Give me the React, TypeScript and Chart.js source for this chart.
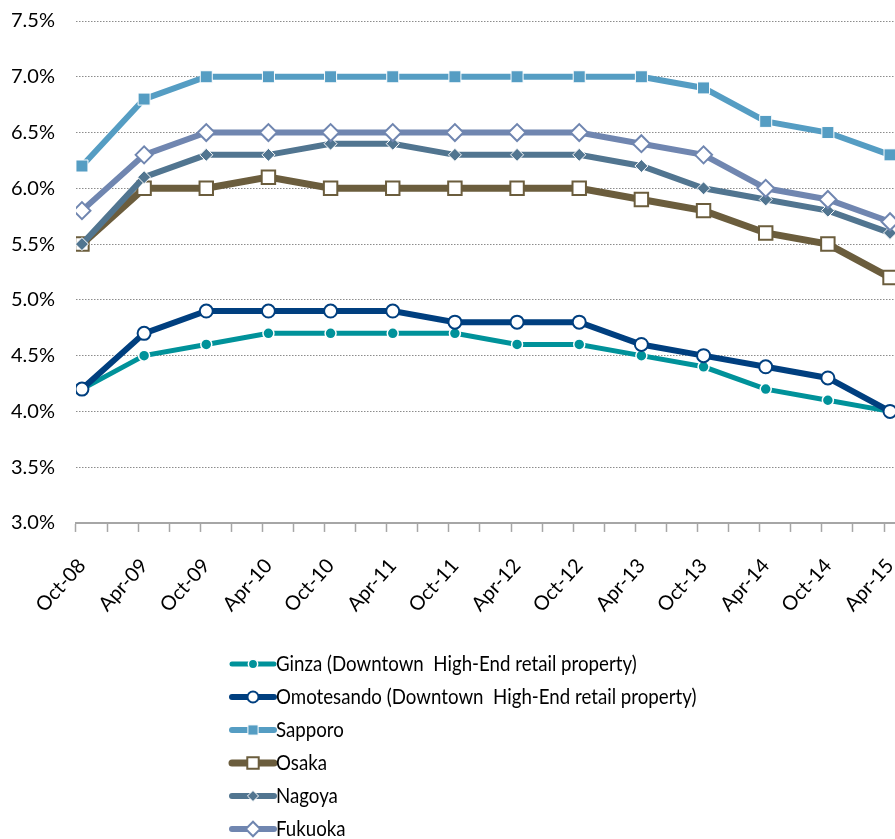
import React, { useEffect, useRef } from "react";
import { Chart, registerables } from "chart.js";
import { drawPoint } from "chart.js/helpers";

Chart.register(...registerables);

const categories = [
  "Oct-08", "Apr-09", "Oct-09", "Apr-10", "Oct-10", "Apr-11", "Oct-11",
  "Apr-12", "Oct-12", "Apr-13", "Oct-13", "Apr-14", "Oct-14", "Apr-15",
];
const ginza = [4.2, 4.5, 4.6, 4.7, 4.7, 4.7, 4.7, 4.6, 4.6, 4.5, 4.4, 4.2, 4.1, 4.0];
const omotesando = [4.2, 4.7, 4.9, 4.9, 4.9, 4.9, 4.8, 4.8, 4.8, 4.6, 4.5, 4.4, 4.3, 4.0];
const sapporo = [6.2, 6.8, 7.0, 7.0, 7.0, 7.0, 7.0, 7.0, 7.0, 7.0, 6.9, 6.6, 6.5, 6.3];
const osaka = [5.5, 6.0, 6.0, 6.1, 6.0, 6.0, 6.0, 6.0, 6.0, 5.9, 5.8, 5.6, 5.5, 5.2];
const nagoya = [5.5, 6.1, 6.3, 6.3, 6.4, 6.4, 6.3, 6.3, 6.3, 6.2, 6.0, 5.9, 5.8, 5.6];
const fukuoka = [5.8, 6.3, 6.5, 6.5, 6.5, 6.5, 6.5, 6.5, 6.5, 6.4, 6.3, 6.0, 5.9, 5.7];

const seriesLabels = [
  "Ginza (Downtown  High-End retail property)",
  "Omotesando (Downtown  High-End retail property)",
  "Sapporo",
  "Osaka",
  "Nagoya",
  "Fukuoka",
];
const yTicks = [3.0, 3.5, 4.0, 4.5, 5.0, 5.5, 6.0, 6.5, 7.0, 7.5];

const FONT = 'Lato, "Open Sans", sans-serif';
const X_MIN = -0.0965;
const X_MAX = 13.08;

const toXY = (arr: number[]) => arr.map((v, i) => ({ x: i, y: v }));

const legendPlugin = {
  id: "stackLegend",
  afterDraw(chart: any) {
    const ctx = chart.ctx as CanvasRenderingContext2D;
    const left = 232;
    const top = 664;
    const step = 33;
    const len = 42;
    ctx.save();
    chart.data.datasets.forEach((ds: any, i: number) => {
      const y = top + i * step;
      ctx.strokeStyle = ds.borderColor;
      ctx.lineWidth = ds.borderWidth;
      ctx.lineCap = "round";
      ctx.beginPath();
      ctx.moveTo(left, y);
      ctx.lineTo(left + len, y);
      ctx.stroke();
      ctx.lineCap = "butt";
      ctx.fillStyle = ds.pointBackgroundColor;
      ctx.strokeStyle = ds.pointBorderColor;
      ctx.lineWidth = ds.pointBorderWidth;
      drawPoint(
        ctx,
        { pointStyle: ds.pointStyle, radius: ds.pointRadius * 0.85, borderWidth: ds.pointBorderWidth, rotation: 0 } as any,
        left + len / 2,
        y
      );
      ctx.fillStyle = "#000";
      ctx.font = `21px ${FONT}`;
      ctx.textBaseline = "middle";
      ctx.textAlign = "left";
      const w = ctx.measureText(ds.label).width;
      ctx.fillText(ds.label, left + len + 2, y, w * 0.89);
    });
    ctx.restore();
  },
};

export default function App() {
  const ref = useRef<HTMLCanvasElement>(null);
  useEffect(() => {
    if (!ref.current) return;
    const makeDs = (
      label: string,
      data: number[],
      color: string,
      style: string,
      radius: number,
      bg: string,
      border: string,
      bw: number,
      lw: number,
      order: number
    ) => ({
      label,
      data: toXY(data),
      borderColor: color,
      backgroundColor: color,
      borderWidth: lw,
      pointStyle: style,
      pointRadius: radius,
      pointBackgroundColor: bg,
      pointBorderColor: border,
      pointBorderWidth: bw,
      tension: 0,
      order,
    });
    const chart = new Chart(ref.current, {
      type: "line",
      data: {
        datasets: [
          makeDs(seriesLabels[0], ginza, "#00929A", "circle", 5.5, "#00929A", "#ffffff", 1.5, 5, 6),
          makeDs(seriesLabels[1], omotesando, "#003F7F", "circle", 6.5, "#ffffff", "#003F7F", 2, 6, 5),
          makeDs(seriesLabels[2], sapporo, "#559DC3", "rect", 8.5, "#559DC3", "#ffffff", 1, 6, 4),
          makeDs(seriesLabels[3], osaka, "#6B5D3D", "rect", 9.5, "#ffffff", "#6B5D3D", 2, 7, 3),
          makeDs(seriesLabels[4], nagoya, "#517590", "rectRot", 6.5, "#517590", "#ffffff", 1, 6, 2),
          makeDs(seriesLabels[5], fukuoka, "#7086B0", "rectRot", 8.5, "#ffffff", "#7086B0", 2, 6, 1),
        ] as any,
      },
      options: {
        animation: false,
        responsive: false,
        devicePixelRatio: 1,
        layout: { autoPadding: false, padding: { left: 9, right: 0, top: 21, bottom: 200 } },
        plugins: { legend: { display: false }, tooltip: { enabled: false } },
        scales: {
          x: {
            type: "linear",
            min: X_MIN,
            max: X_MAX,
            afterBuildTicks: (scale: any) => {
              const vals: number[] = [];
              categories.forEach((_, i) => vals.push(i));
              for (let k = 0; X_MIN + 0.5 * k <= X_MAX; k++) vals.push(X_MIN + 0.5 * k);
              vals.sort((a, b) => a - b);
              scale.ticks = vals.map((v) => ({ value: v }));
            },
            afterFit: (scale: any) => {
              scale.paddingLeft = 0;
              scale.paddingRight = 0;
            },
            ticks: {
              autoSkip: false,
              minRotation: 48,
              maxRotation: 48,
              padding: 22,
              color: "#000",
              font: { family: FONT, size: 20 },
              callback: (v: any) => (Number.isInteger(v) ? categories[v] : ""),
            },
            grid: {
              drawOnChartArea: false,
              drawTicks: true,
              tickLength: 9,
              tickWidth: 1.5,
              tickColor: (c: any) => (Number.isInteger(c.tick?.value) ? "rgba(0,0,0,0)" : "#A6A6A6"),
            },
            border: { display: true, color: "#A6A6A6", width: 2 },
          },
          y: {
            min: 3,
            max: 7.5,
            afterBuildTicks: (scale: any) => {
              scale.ticks = yTicks.map((v) => ({ value: v }));
            },
            ticks: {
              padding: 2,
              color: "#000",
              font: { family: FONT, size: 20 },
              callback: (v: any) => Number(v).toFixed(1) + "%",
            },
            grid: {
              drawTicks: true,
              tickLength: 19,
              tickColor: "rgba(0,0,0,0)",
              color: (c: any) => (c.tick && c.tick.value === 3 ? "rgba(0,0,0,0)" : "#8C8C8C"),
              lineWidth: 1,
            },
            border: { display: false, dash: [1.5, 1.5] },
          },
        },
      } as any,
      plugins: [legendPlugin],
    });
    return () => chart.destroy();
  }, []);
  return (
    <div style={{ position: "fixed", left: 0, top: 0, width: 895, height: 839, overflow: "hidden", background: "#fff" }}>
      <canvas ref={ref} width={895} height={839} style={{ display: "block" }} />
    </div>
  );
}
